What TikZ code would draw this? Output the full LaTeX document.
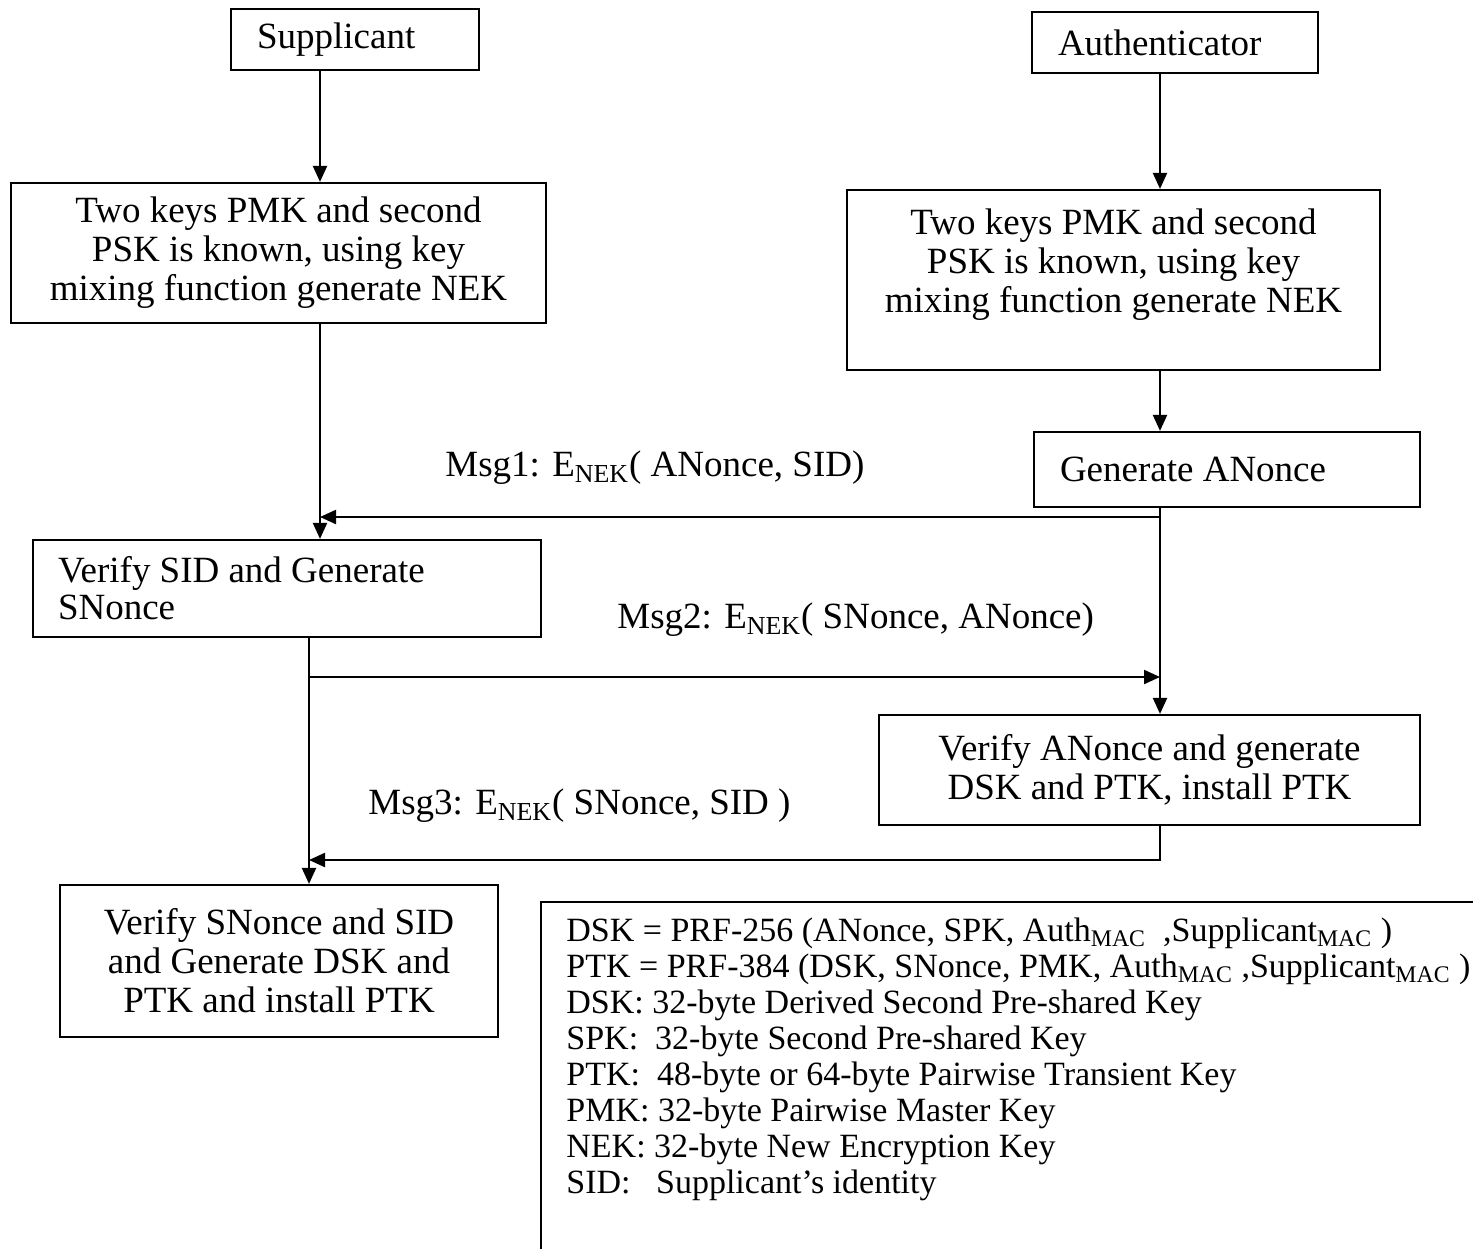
\documentclass[tikz,border=0pt]{standalone}
\usepackage{fontspec}
\setmainfont{Liberation Serif}
\usetikzlibrary{arrows.meta}
\begin{document}
\begin{tikzpicture}[x=0.5pt,y=-0.5pt,
  boxbase/.style={draw, line width=1.1pt, inner sep=0pt, font=\fontsize{18.5}{19.5}\selectfont},
  cbox/.style={boxbase, align=center},
  lbox/.style={boxbase, align=flush left, inner xsep=13pt},
  conn/.style={line width=1.1pt},
  arr/.style={conn, -{Triangle[length=8pt,width=7pt]}},
  msg/.style={anchor=west, inner sep=0pt, font=\fontsize{18.5}{19.5}\selectfont},
]
\useasboundingbox (0,0) rectangle (1473,1249);

% boxes
\node[lbox, text width=98pt, minimum width=124pt, minimum height=30.5pt] (sup) at (355,39.5) {Supplicant};
\node[lbox, text width=117pt, minimum width=143pt, minimum height=30.5pt] (auth) at (1175,42.5) {Authenticator};
\node[cbox, minimum width=267.5pt, minimum height=70pt] (k1) at (278.5,253) {Two keys PMK and second\\PSK is known, using key\\mixing function generate NEK};
\node[cbox, minimum width=266.5pt, minimum height=90pt] (k2) at (1113.5,280) {Two keys PMK and second\\PSK is known, using key\\mixing function generate NEK\\\mbox{}};
\node[lbox, text width=167pt, minimum width=193pt, minimum height=37.5pt] (gen) at (1227,469.5) {Generate ANonce};
\node[lbox, inner xsep=12.5pt, text width=229pt, minimum width=254pt, minimum height=48.5pt, font=\fontsize{18.5}{18.5}\selectfont] (vsid) at (287,588.5) {Verify SID and Generate\\SNonce};
\node[cbox, minimum width=270.5pt, minimum height=55pt] (vano) at (1149.5,770) {Verify ANonce and generate\\DSK and PTK, install PTK};
\node[cbox, minimum width=219pt, minimum height=76pt] (vsn) at (279,961) {Verify SNonce and SID\\and Generate DSK and\\PTK and install PTK};

% helper coordinates
\coordinate (cL) at (320,0);
\coordinate (cL2) at (309,0);
\coordinate (cR) at (1160,0);
\coordinate (m1) at (1160,517);
\coordinate (m2) at (309,677);
\coordinate (m3) at (1160,860);

% connectors
\draw[arr] (sup.south -| cL) -- (k1.north -| cL);
\draw[arr] (k1.south -| cL) -- (vsid.north -| cL);
\draw[arr] (auth.south -| cR) -- (k2.north -| cR);
\draw[arr] (k2.south -| cR) -- (gen.north -| cR);
\draw[arr] (gen.south -| cR) -- (vano.north -| cR);
\draw[arr] (m1) -- (m1 -| cL);
\draw[arr] (vsid.south -| cL2) -- (vsn.north -| cL2);
\draw[arr] (m2) -- (m2 -| cR);
\draw[arr] (vano.south -| cR) -- (m3) -- (m3 -| cL2);

% message labels
\node[msg] (l1) at (445,468) {Msg1: E\textsubscript{NEK}( ANonce, SID)};
\node[msg] (l2) at (617,620) {Msg2: E\textsubscript{NEK}( SNonce, ANonce)};
\node[msg] (l3) at (368,806) {Msg3: E\textsubscript{NEK}( SNonce, SID )};

% legend
\coordinate (lgA) at (541,1249);
\coordinate (lgB) at (541,902);
\coordinate (lgC) at (1473,902);
\draw[conn] (lgA) -- (lgB) -- (lgC);
\node[anchor=north west, inner sep=0pt, align=left, font=\fontsize{17}{18}\selectfont] (leg) at (566,917) {%
DSK = PRF-256 (ANonce, SPK, Auth\textsubscript{MAC}\ \ ,Supplicant\textsubscript{MAC} )\\
PTK = PRF-384 (DSK, SNonce, PMK, Auth\textsubscript{MAC} ,Supplicant\textsubscript{MAC} )\\
DSK: 32-byte Derived Second Pre-shared Key\\
SPK:\ \ 32-byte Second Pre-shared Key\\
PTK:\ \ 48-byte or 64-byte Pairwise Transient Key\\
PMK: 32-byte Pairwise Master Key\\
NEK: 32-byte New Encryption Key\\
SID:\ \ \ Supplicant’s identity};
\end{tikzpicture}
\end{document}
